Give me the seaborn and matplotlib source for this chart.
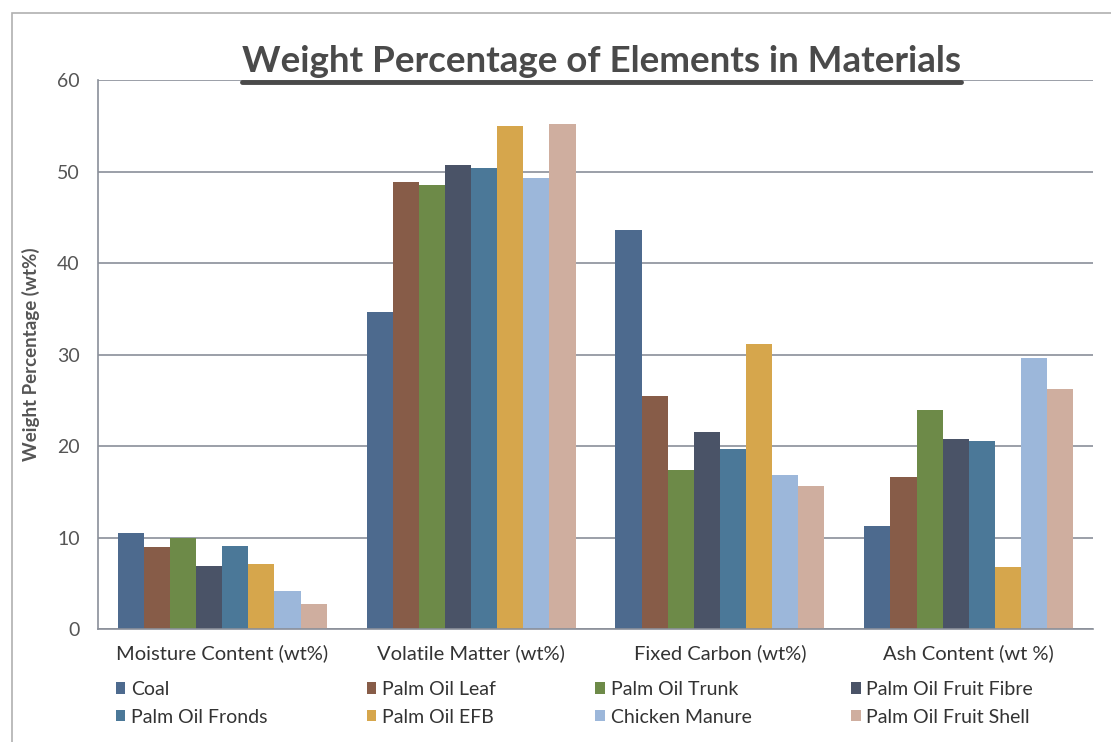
import pandas as pd
import seaborn as sns
import matplotlib.pyplot as plt
from matplotlib.lines import Line2D
from matplotlib.patches import Rectangle

# categories and series
categories = ['Moisture Content (wt%)', 'Volatile Matter (wt%)',
              'Fixed Carbon (wt%)', 'Ash Content (wt %)']
materials = ['Coal', 'Palm Oil Leaf', 'Palm Oil Trunk', 'Palm Oil Fruit Fibre',
             'Palm Oil Fronds', 'Palm Oil EFB', 'Chicken Manure', 'Palm Oil Fruit Shell']

coal = [10.5, 34.7, 43.6, 11.3]
palm_leaf = [9.0, 48.9, 25.5, 16.6]
palm_trunk = [10.0, 48.5, 17.4, 24.0]
palm_fibre = [6.9, 50.7, 21.5, 20.8]
palm_fronds = [9.1, 50.4, 19.7, 20.6]
palm_efb = [7.1, 55.0, 31.2, 6.8]
chicken = [4.2, 49.3, 16.8, 29.6]
palm_shell = [2.8, 55.2, 15.7, 26.3]

series = [coal, palm_leaf, palm_trunk, palm_fibre,
          palm_fronds, palm_efb, chicken, palm_shell]

colors = ['#4d6a8e', '#875c48', '#6d8a48', '#4a5367',
          '#4b7898', '#d6a64c', '#9cb7da', '#cfae9f']

rows = []
for mat, vals in zip(materials, series):
    for cat, v in zip(categories, vals):
        rows.append({'Category': cat, 'Material': mat, 'Value': v})
df = pd.DataFrame(rows)

sns.set_style('white')
plt.rcParams['font.family'] = ['Lato', 'DejaVu Sans']

fig = plt.figure(figsize=(11.11, 7.42), dpi=100)
ax = fig.add_axes([0.088, 0.152, 0.896, 0.740])

sns.barplot(data=df, x='Category', y='Value', hue='Material',
            hue_order=materials, order=categories, palette=colors,
            width=0.84, gap=0, saturation=1, ax=ax, legend=True,
            edgecolor='none', linewidth=0)

ax.set_ylim(0, 60)
ax.set_xlim(-0.5, 3.5)
ax.set_yticks(range(0, 61, 10))
ax.yaxis.grid(True, color='#8a8f99', linewidth=1.2)
ax.set_axisbelow(True)
for s in ['top', 'right']:
    ax.spines[s].set_visible(False)
ax.spines['left'].set_color('#8a8f99')
ax.spines['bottom'].set_color('#8a8f99')
ax.spines['left'].set_linewidth(1.2)
ax.spines['bottom'].set_linewidth(1.2)

ax.tick_params(axis='y', labelsize=14, colors='#555555', length=5, color='#8a8f99', pad=8)
ax.tick_params(axis='x', labelsize=14.5, colors='#333333', length=0, pad=11)
ax.set_xticks(range(4))
ax.set_xticklabels(categories)
# category separator ticks
ax.set_xticks([-0.5, 0.5, 1.5, 2.5, 3.5], minor=True)
ax.tick_params(axis='x', which='minor', length=5, color='#8a8f99')

ax.set_xlabel('')
ax.set_ylabel('Weight Percentage (wt%)', fontsize=13.5, fontweight='bold',
              color='#555555', labelpad=12)

# legend row-wise like the reference
handles, labels = ax.get_legend_handles_labels()
order = [0, 4, 1, 5, 2, 6, 3, 7]
ax.legend([handles[i] for i in order], [labels[i] for i in order],
          loc='upper left', bbox_to_anchor=(0.01, -0.08), ncol=4,
          frameon=False, fontsize=14, handlelength=0.5, handleheight=0.5,
          handletextpad=0.3, columnspacing=5.1, labelspacing=0.55,
          borderaxespad=0, labelcolor='#333333')

title = fig.text(0.541, 0.903, 'Weight Percentage of Elements in Materials',
                 ha='center', va='baseline', fontsize=26.5, fontweight='bold',
                 color='#4a4a4a')
fig.canvas.draw()
bb = title.get_window_extent().transformed(fig.transFigure.inverted())
fig.add_artist(Line2D([bb.x0, bb.x1], [0.889, 0.889], color='#4a4a4a',
                      linewidth=3.5, transform=fig.transFigure))

# outer chart frame
fig.add_artist(Rectangle((0.011, -0.05), 1.2, 1.032, transform=fig.transFigure,
                         fill=False, edgecolor='#b0b0b0', linewidth=1.2))

fig.savefig('out.png', dpi=100)
